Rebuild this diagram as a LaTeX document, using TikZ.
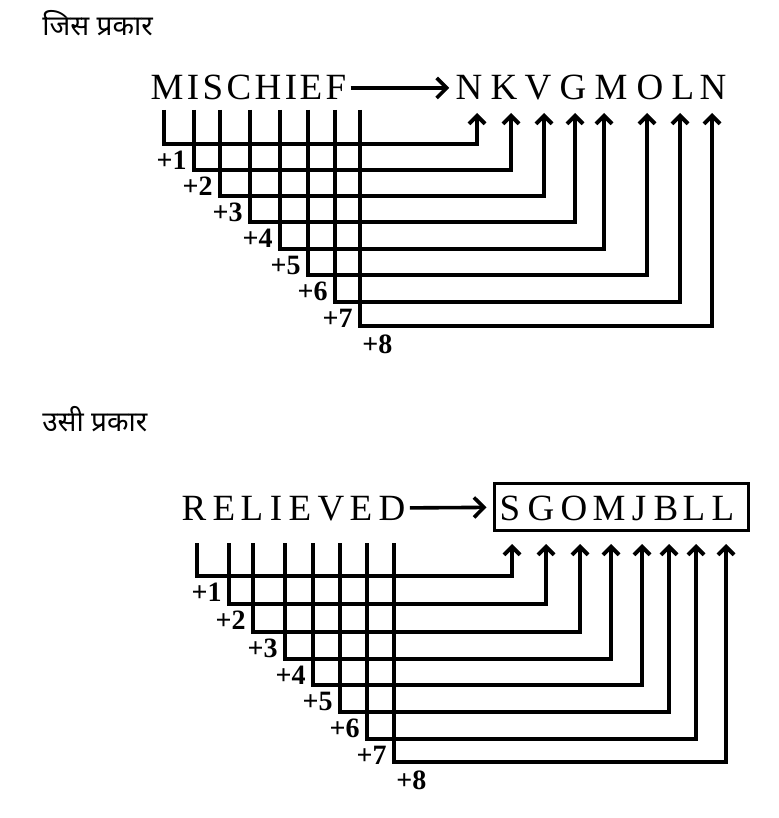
\documentclass[tikz,border=0pt]{standalone}
\usepackage{fontspec}
\setmainfont{Liberation Serif}
\newfontfamily\hindi[Script=Devanagari]{Noto Sans}
\usetikzlibrary{arrows.meta, calc, positioning}

\tikzset{
  title/.style={anchor=base west, inner sep=0pt, font=\hindi\fontsize{14}{16}\selectfont},
  letter/.style={anchor=base, inner sep=0pt, text height=12pt, text depth=0pt, font=\fontsize{18.5}{20}\selectfont},
  plus/.style={inner sep=0pt, font=\fontsize{14}{16}\selectfont\bfseries},
  link/.style={line width=2pt, -{Straight Barb[length=4pt, width=8pt]}},
  wordarrow/.style={line width=1.8pt, -{Straight Barb[length=5pt, width=10pt]}, shorten <=2pt, shorten >=3pt},
}

\begin{document}
\begin{tikzpicture}[x=0.5pt, y=-0.5pt]
\useasboundingbox (0,0) rectangle (779,818);

% first example
\node (title1) [title] at (42,36) {जिस प्रकार};
\foreach \l/\x [count=\i] in {M/167,I/193,S/213,C/239,H/268,I/291,E/311,F/336}
  \node (a\i) [letter] at (\x,100) {\l};
\foreach \l/\x [count=\i] in {N/469,K/504,V/538,G/573,M/611,O/650,L/683,N/713}
  \node (b\i) [letter] at (\x,100) {\l};
\draw[wordarrow] (a8) -- (b1);

\foreach \vx/\hy/\ax [count=\k] in {164/144/477,194/170/511,220/196/544,250/222/575,280/249/604,308/275/647,335/302/680,360/326/712}{
  \coordinate (s\k) at (\vx,110);
  \coordinate (c\k) at (\vx,\hy);
  \coordinate (t\k) at (\ax,113);
  \draw[link] (s\k) -- (c\k) -| (t\k);
}
\foreach \k/\x/\y in {1/187/160,2/213/186,3/243/212,4/273/238,5/301/265,6/328/291,7/353/318}
  \node (p\k) [plus, anchor=east] at (\x,\y) {+\k};
\node (p8) [plus, anchor=north west] at (362,334) {+8};

% second example
\node (title2) [title] at (42,431) {उसी प्रकार};
\foreach \l/\x [count=\i] in {R/194,E/224,L/252,I/276,E/300,V/331,E/361,D/392}
  \node (c\i) [letter] at (\x,520) {\l};
\foreach \l/\x [count=\i] in {S/510,G/541,O/574,M/609,J/639,B/666,L/694,L/723}
  \node (d\i) [letter] at (\x,520) {\l};
\node (box) [draw, line width=1.5pt, minimum width=127pt, minimum height=23.5pt] at (621,506.5) {};
\draw[wordarrow] (c8) -- (box);

\foreach \vx/\hy/\ax [count=\k] in {197/576/512,229/604/546,253/632/580,285/659/611,313/685/642,340/712/669,367/739/696,394/762/726}{
  \coordinate (u\k) at (\vx,543);
  \coordinate (v\k) at (\vx,\hy);
  \coordinate (w\k) at (\ax,544);
  \draw[link] (u\k) -- (v\k) -| (w\k);
}
\foreach \k/\x/\y in {1/222/592,2/246/620,3/278/648,4/306/675,5/333/701,6/360/728,7/387/755}
  \node (q\k) [plus, anchor=east] at (\x,\y) {+\k};
\node (q8) [plus, anchor=north west] at (396,770) {+8};
\end{tikzpicture}
\end{document}
